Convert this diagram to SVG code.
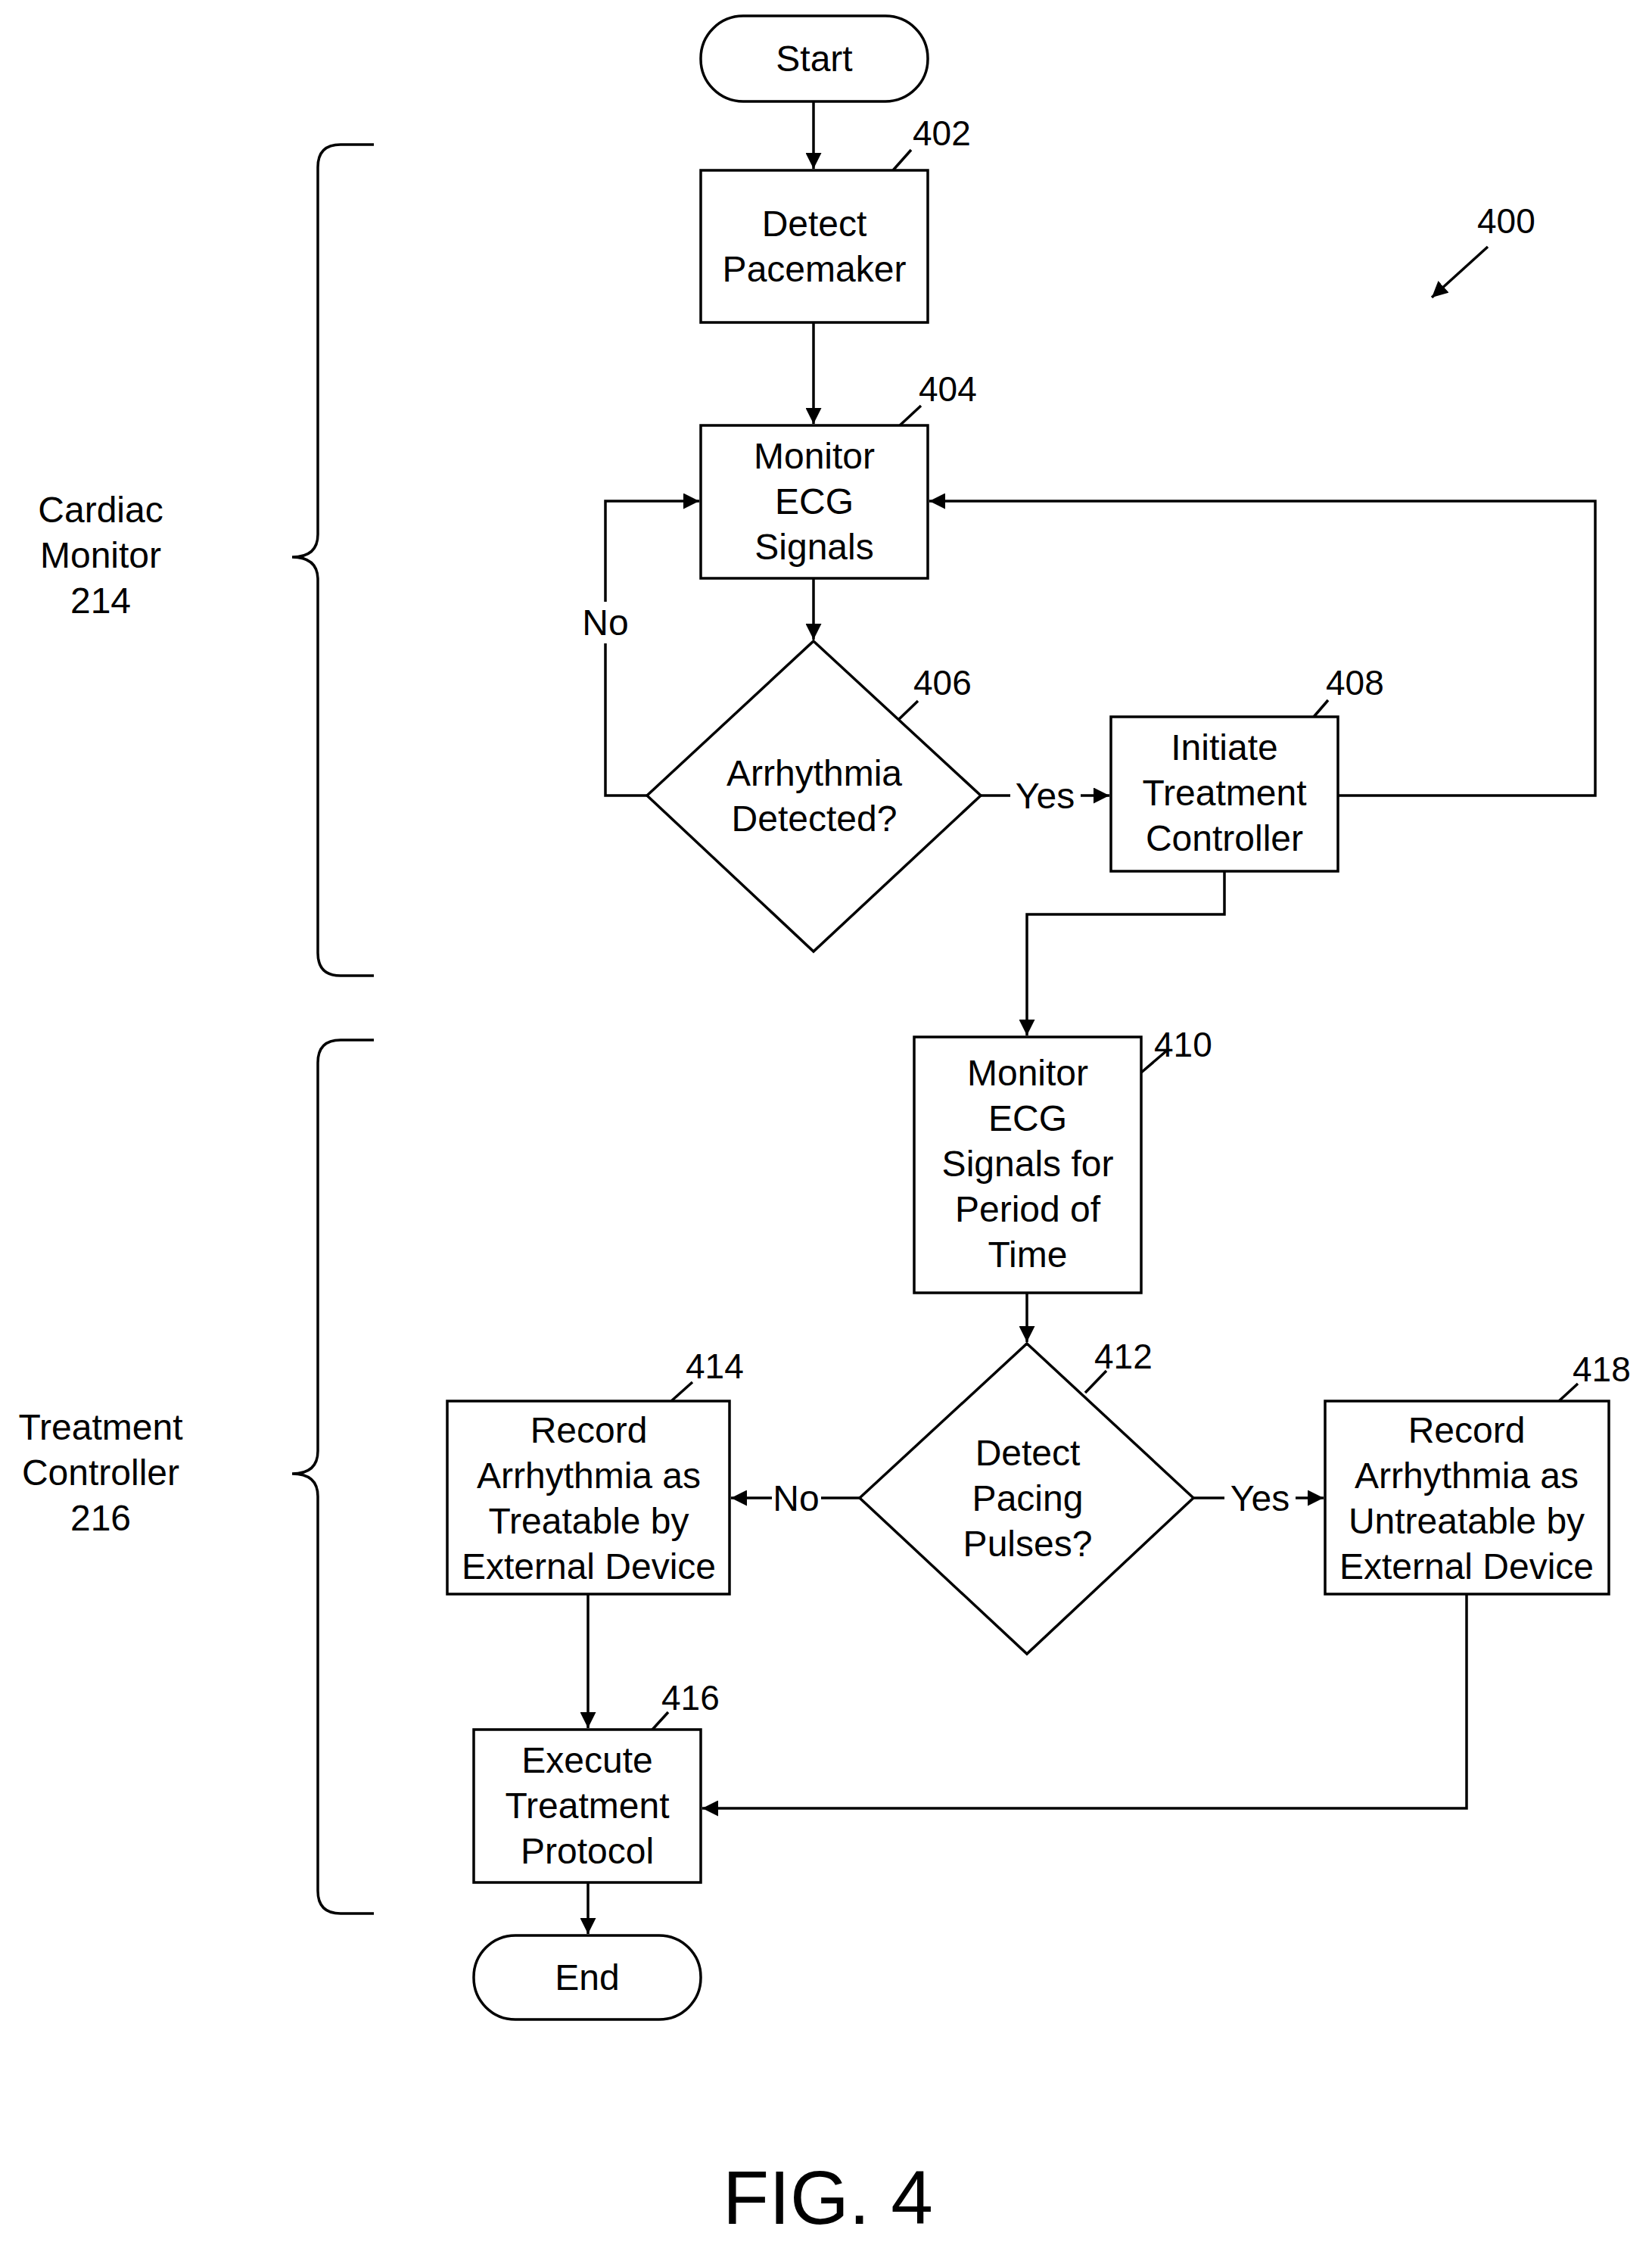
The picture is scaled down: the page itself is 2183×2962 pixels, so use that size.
<svg xmlns="http://www.w3.org/2000/svg" width="2183" height="2962" viewBox="0 0 2183 2962">
<style>
.s{fill:#fff;stroke:#000;stroke-width:3.5}
.l{fill:none;stroke:#000;stroke-width:3.5}
.t{font-family:"Liberation Sans",Arial,sans-serif;font-size:48px;text-anchor:middle;fill:#000}
.n{font-family:"Liberation Sans",Arial,sans-serif;font-size:46px;fill:#000}
</style>
<defs>
<marker id="a" viewBox="0 0 10 10" refX="10" refY="5" markerWidth="7" markerHeight="7" markerUnits="userSpaceOnUse" orient="auto"><path d="M0,0L10,5L0,10z" fill="#000"/></marker>
<marker id="b" viewBox="0 0 10 10" refX="10" refY="5" markerWidth="6" markerHeight="6" orient="auto"><path d="M0,0L10,5L0,10z" fill="#000"/></marker>
</defs>
<rect width="2183" height="2962" fill="#fff"/>
<g id="connectors" class="l">
<path d="M1075,134V223" marker-end="url(#b)"/>
<path d="M1075,426V560" marker-end="url(#b)"/>
<path d="M1075,764V845" marker-end="url(#b)"/>
<path d="M855,1051H800V850M800,795V662H924" marker-end="url(#b)"/>
<path d="M1296,1051H1335M1428,1051H1466" marker-end="url(#b)"/>
<path d="M1768,1051H2108V662H1228" marker-end="url(#b)"/>
<path d="M1618,1151V1208H1357V1368" marker-end="url(#b)"/>
<path d="M1357,1708V1773" marker-end="url(#b)"/>
<path d="M1136,1979H1085M1020,1979H966" marker-end="url(#b)"/>
<path d="M1577,1979H1618M1712,1979H1749" marker-end="url(#b)"/>
<path d="M777,2106V2283" marker-end="url(#b)"/>
<path d="M1938,2106V2389H928" marker-end="url(#b)"/>
<path d="M777,2487V2555" marker-end="url(#b)"/>
<path d="M1966,326L1892,393" marker-end="url(#b)"/>
<path d="M1204,198L1180,225M1217,536L1189,562M1213,926L1185,953M1755,925L1736,947M1543,1387L1508,1417M1462,1811L1434,1840M915,1826L887,1851M2085,1828L2060,1851M883,2262L862,2285"/>
</g>
<g class="t">
<text x="1381" y="1068">Yes</text>
<text x="800" y="839">No</text>
<text x="1052" y="1996">No</text>
<text x="1665" y="1996">Yes</text>
</g>
<g id="start"><rect class="s" x="926" y="21" width="300" height="113" rx="56"/><text class="t" x="1076" y="94">Start</text></g>
<g id="n402"><rect class="s" x="926" y="225" width="300" height="201"/><text class="t" x="1076" y="312">Detect</text><text class="t" x="1076" y="372">Pacemaker</text><text class="n" x="1206" y="192">402</text></g>
<g id="n404"><rect class="s" x="926" y="562" width="300" height="202"/><text class="t" x="1076" y="619">Monitor</text><text class="t" x="1076" y="679">ECG</text><text class="t" x="1076" y="739">Signals</text><text class="n" x="1214" y="530">404</text></g>
<g id="n406"><path class="s" d="M1075,847L1296,1051L1075,1257L855,1051Z"/><text class="t" x="1076" y="1038">Arrhythmia</text><text class="t" x="1076" y="1098">Detected?</text><text class="n" x="1207" y="918">406</text></g>
<g id="n408"><rect class="s" x="1468" y="947" width="300" height="204"/><text class="t" x="1618" y="1004">Initiate</text><text class="t" x="1618" y="1064">Treatment</text><text class="t" x="1618" y="1124">Controller</text><text class="n" x="1752" y="918">408</text></g>
<g id="n410"><rect class="s" x="1208" y="1370" width="300" height="338"/><text class="t" x="1358" y="1434">Monitor</text><text class="t" x="1358" y="1494">ECG</text><text class="t" x="1358" y="1554">Signals for</text><text class="t" x="1358" y="1614">Period of</text><text class="t" x="1358" y="1674">Time</text><text class="n" x="1525" y="1396">410</text></g>
<g id="n412"><path class="s" d="M1357,1775L1577,1979L1357,2185L1136,1979Z"/><text class="t" x="1358" y="1936">Detect</text><text class="t" x="1358" y="1996">Pacing</text><text class="t" x="1358" y="2056">Pulses?</text><text class="n" x="1446" y="1808">412</text></g>
<g id="n414"><rect class="s" x="591" y="1851" width="373" height="255"/><text class="t" x="778" y="1906">Record</text><text class="t" x="778" y="1966">Arrhythmia as</text><text class="t" x="778" y="2026">Treatable by</text><text class="t" x="778" y="2086">External Device</text><text class="n" x="906" y="1821">414</text></g>
<g id="n418"><rect class="s" x="1751" y="1851" width="375" height="255"/><text class="t" x="1938" y="1906">Record</text><text class="t" x="1938" y="1966">Arrhythmia as</text><text class="t" x="1938" y="2026">Untreatable by</text><text class="t" x="1938" y="2086">External Device</text><text class="n" x="2078" y="1825">418</text></g>
<g id="n416"><rect class="s" x="626" y="2285" width="300" height="202"/><text class="t" x="776" y="2342">Execute</text><text class="t" x="776" y="2402">Treatment</text><text class="t" x="776" y="2462">Protocol</text><text class="n" x="874" y="2259">416</text></g>
<g id="end"><rect class="s" x="626" y="2557" width="300" height="111" rx="55"/><text class="t" x="776" y="2629">End</text></g>
<g id="n400"><text class="n" x="1952" y="308">400</text></g>
<g id="brace1"><path class="l" d="M494,191H450Q420,191 420,221V706Q420,736 386,736Q420,736 420,766V1259Q420,1289 450,1289H494"/><text class="t" x="133" y="690">Cardiac</text><text class="t" x="133" y="750">Monitor</text><text class="t" x="133" y="810">214</text></g>
<g id="brace2"><path class="l" d="M494,1374H450Q420,1374 420,1404V1917Q420,1947 386,1947Q420,1947 420,1977V2498Q420,2528 450,2528H494"/><text class="t" x="133" y="1902">Treatment</text><text class="t" x="133" y="1962">Controller</text><text class="t" x="133" y="2022">216</text></g>
<text x="1094" y="2938" style="font-family:'Liberation Sans',Arial,sans-serif;font-size:100px;text-anchor:middle">FIG. 4</text>
</svg>
